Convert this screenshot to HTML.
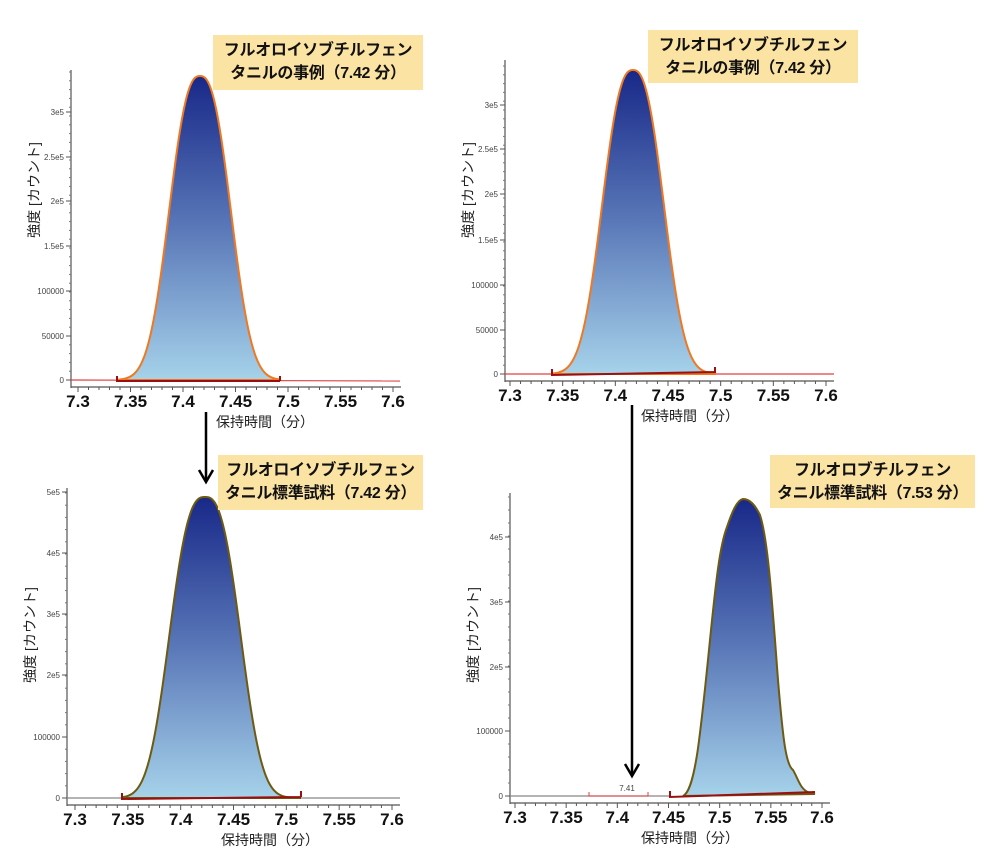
<!DOCTYPE html>
<html><head><meta charset="utf-8"><style>
body{margin:0;background:#fff;width:1000px;height:862px;overflow:hidden}
svg{position:absolute;left:0;top:0}
.box{position:absolute;background:#fbe3a4;font:bold 16px "Liberation Sans","Noto Sans CJK JP",sans-serif;color:#111;text-align:center;line-height:23px;padding-top:4px;box-sizing:border-box;letter-spacing:-0.3px}
</style></head><body>
<svg id="s" width="1000" height="862" xmlns="http://www.w3.org/2000/svg">
<defs><linearGradient id="g" x1="0" y1="0" x2="0" y2="1"><stop offset="0" stop-color="#182888"/><stop offset="0.5" stop-color="#5a78b8"/><stop offset="1" stop-color="#a6d2ea"/></linearGradient></defs>
</svg>
<div class="box" style="left:213px;top:35px;width:210px;height:55px">フルオロイソブチルフェン<br>タニルの事例（7.42 分）</div>
<div class="box" style="left:648px;top:30px;width:210px;height:53px">フルオロイソブチルフェン<br>タニルの事例（7.42 分）</div>
<div class="box" style="left:218px;top:455px;width:205px;height:55px">フルオロイソブチルフェン<br>タニル標準試料（7.42 分）</div>
<div class="box" style="left:770px;top:455px;width:205px;height:53px">フルオロブチルフェン<br>タニル標準試料（7.53 分）</div>
<script>
const s=document.getElementById('s');let h='';
const F="font-family:'Liberation Sans','Noto Sans CJK JP',sans-serif";
function panel(p){
 const {ax,top,zero,x0,x1,ticks,xt}=p;
 h+=`<line x1="${ax}" y1="${top}" x2="${ax}" y2="${zero+8}" stroke="#555" stroke-width="1.2"/>`;
 h+=`<line x1="${ax}" y1="${zero+7}" x2="${x1+8}" y2="${zero+7}" stroke="#555" stroke-width="1.2"/>`;
 const st=(ticks[0][1]-ticks[1][1])/5;
 for(let y=zero;y>top;y-=st){h+=`<line x1="${ax-2}" y1="${y}" x2="${ax}" y2="${y}" stroke="#777"/>`;}
 ticks.forEach(t=>{h+=`<line x1="${ax-5}" y1="${t[1]}" x2="${ax}" y2="${t[1]}" stroke="#555"/><text x="${ax-7}" y="${t[1]+3}" font-size="8" fill="#444" text-anchor="end" style="${F}">${t[0]}</text>`;});
 const dx=(x1-x0)/6;
 for(let i=0;i<=30;i++){const x=x0+dx*i/5;h+=`<line x1="${x}" y1="${zero+7}" x2="${x}" y2="${zero+(i%5?10:12)}" stroke="#555"/>`;}
 ['7.3','7.35','7.4','7.45','7.5','7.55','7.6'].forEach((l,i)=>{h+=`<text x="${x0+dx*i}" y="${zero+27}" font-size="17" font-weight="bold" fill="#111" text-anchor="middle" style="${F}">${l}</text>`;});
 h+=`<text x="${xt}" y="${zero+47}" font-size="14" fill="#222" text-anchor="middle" style="${F}">保持時間（分）</text>`;
 h+=`<text transform="translate(${ax-32},${p.yl}) rotate(-90)" font-size="14" fill="#222" text-anchor="middle" style="${F}">強度 [カウント]</text>`;
}
function gauss(c,sg,top,zero,a,b,col,pw){let d=`M${a},${zero}`;for(let x=a;x<=b;x+=1){const y=zero-(zero-top)*Math.exp(-Math.pow(Math.abs(x-c)/sg,pw)/2);d+=` L${x},${y.toFixed(1)}`;}d+=` L${b},${zero}Z`;h+=`<path d="${d}" fill="url(#g)" stroke="${col}" stroke-width="2"/>`;}
panel({ax:71,top:70,zero:380,x0:78,x1:393,xt:265,yl:190,ticks:[['0',380],['50000',336],['100000',291],['1.5e5',246],['2e5',201],['2.5e5',157],['3e5',112]]});
h+=`<line x1="71" y1="380" x2="400" y2="381" stroke="#e04040" stroke-width="1.2"/>`;
gauss(200,29,76,380,118,280,'#f07820',2.5);
h+=`<path d="M117,376 V381 H280 M280,376 V381" stroke="#9a1010" stroke-width="2" fill="none"/>`;
panel({ax:505,top:60,zero:374,x0:510,x1:826,xt:690,yl:190,ticks:[['0',374],['50000',330],['100000',285],['1.5e5',240],['2e5',194],['2.5e5',149],['3e5',105]]});
h+=`<line x1="505" y1="374" x2="834" y2="374" stroke="#e04040" stroke-width="1.2"/>`;
gauss(633,29,70,374,552,715,'#f07820',2.5);
h+=`<path d="M552,369 V375 L715,372 M715,367 V373" stroke="#9a1010" stroke-width="2" fill="none"/>`;
panel({ax:67,top:488,zero:798,x0:75,x1:392,xt:270,yl:635,ticks:[['0',798],['100000',737],['2e5',675],['3e5',614],['4e5',553],['5e5',492]]});
h+=`<line x1="67" y1="798" x2="400" y2="798" stroke="#888" stroke-width="1.2"/>`;
gauss(205,33,497,798,122,301,'#6e5a10',2.7);
h+=`<path d="M122,793 V799 L301,797 M301,791 V797" stroke="#9a1010" stroke-width="2" fill="none"/>`;
panel({ax:510,top:493,zero:796,x0:515,x1:822,xt:690,yl:635,ticks:[['0',796],['100000',731],['2e5',667],['3e5',602],['4e5',537]]});
h+=`<line x1="510" y1="796" x2="670" y2="796" stroke="#888" stroke-width="1.2"/>`;
h+=`<path d="M589,792 V796 H648 M648,792 V796" stroke="#e04040" stroke-width="1" fill="none"/><text x="627" y="791" font-size="8" fill="#444" text-anchor="middle" style="${F}">7.41</text>`;
h+=`<path d="M683,796 C695,790 700,740 710,640 C716,580 720,545 727,527 C732,512 737,500 743,499 C750,499 755,505 760,515 C768,540 772,600 778,680 C783,740 786,765 793,770 C798,778 800,790 810,793 L815,794 L683,796Z" fill="url(#g)" stroke="#6e5a10" stroke-width="2"/>`;
h+=`<path d="M670,791 V797 L815,792" stroke="#9a1010" stroke-width="2" fill="none"/>`;
h+=`<line x1="206" y1="412" x2="206" y2="480" stroke="#000" stroke-width="2.5"/><path d="M199,470 L206,482 L213,470" stroke="#000" stroke-width="2.5" fill="none"/>`;
h+=`<line x1="632" y1="405" x2="632" y2="774" stroke="#000" stroke-width="2.5"/><path d="M625,764 L632,776 L639,764" stroke="#000" stroke-width="2.5" fill="none"/>`;
s.innerHTML+=h;
</script>
</body></html>
